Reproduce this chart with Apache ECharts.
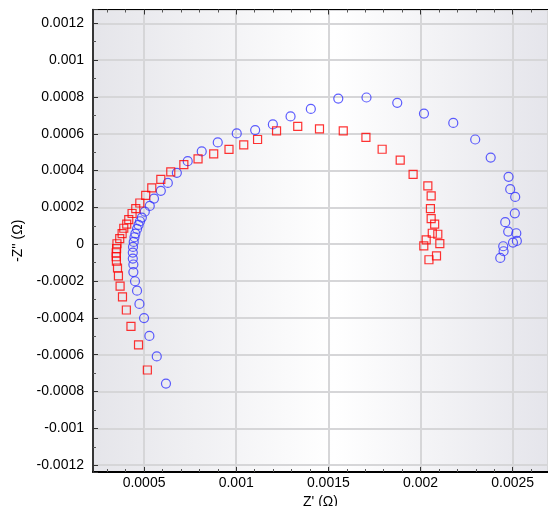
<!DOCTYPE html>
<html>
<head>
<meta charset="utf-8">
<script src="https://cdn.jsdelivr.net/npm/echarts@6/dist/echarts.min.js"></script>
<style>html,body{margin:0;padding:0;background:#fff}#c{width:548px;height:506px}</style>
</head>
<body>
<div id="c"></div>
<script>
// Blue circles: Z' (Ω) and -Z'' (Ω)
const blueZre = [0.000619,0.000569,0.000529,0.000500,0.000475,0.000462,0.000451,0.000442,0.000442,0.000439,0.000439,0.000440,0.000444,0.000448,0.000453,0.000462,0.000470,0.000478,0.000488,0.000504,0.000531,0.000554,0.000591,0.000629,0.000678,0.000737,0.000813,0.000900,0.001003,0.001103,0.001199,0.001295,0.001405,0.001554,0.001707,0.001874,0.002019,0.002178,0.002297,0.002381,0.002478,0.002487,0.002514,0.002512,0.002460,0.002476,0.002520,0.002523,0.002502,0.002449,0.002451,0.002433];
const blueZim = [-0.000757,-0.000609,-0.000498,-0.000401,-0.000324,-0.000252,-0.000201,-0.000151,-0.000110,-0.0000777,-0.0000451,-0.0000147,0.0000125,0.0000380,0.0000582,0.0000832,0.000105,0.000125,0.000145,0.000177,0.000208,0.000248,0.000290,0.000333,0.000388,0.000451,0.000504,0.000553,0.000602,0.000620,0.000651,0.000694,0.000735,0.000791,0.000797,0.000768,0.000710,0.000659,0.000569,0.000471,0.000366,0.000299,0.000257,0.000168,0.000120,0.0000690,0.0000598,0.0000179,0.0000092,-0.0000109,-0.0000380,-0.0000745];
// Red squares
const redZre = [0.000518,0.000470,0.000429,0.000404,0.000383,0.000370,0.000361,0.000356,0.000350,0.000349,0.000349,0.000351,0.000353,0.000368,0.000381,0.000390,0.000406,0.000417,0.000435,0.000455,0.000477,0.000509,0.000542,0.000591,0.000645,0.000716,0.000793,0.000878,0.000961,0.001041,0.001116,0.001219,0.001334,0.001452,0.001581,0.001704,0.001792,0.001890,0.001960,0.002040,0.002058,0.002054,0.002058,0.002077,0.002064,0.002094,0.002031,0.002018,0.002105,0.002087,0.002046];
const redZim = [-0.000683,-0.000547,-0.000446,-0.000357,-0.000286,-0.000227,-0.000172,-0.000129,-0.0000924,-0.0000679,-0.0000462,-0.0000234,0.0000027,0.0000310,0.0000582,0.0000870,0.000109,0.000134,0.000167,0.000194,0.000224,0.000265,0.000306,0.000352,0.000393,0.000433,0.000464,0.000491,0.000515,0.000540,0.000569,0.000616,0.000640,0.000627,0.000616,0.000580,0.000516,0.000457,0.000380,0.000317,0.000263,0.000193,0.000139,0.000109,0.0000598,0.0000544,0.0000234,-0.0000092,0.0000038,-0.0000636,-0.0000842];

const xName = "Z' (Ω)";
const yName = "-Z'' (Ω)";
const xMin = 0.000223, xMax = 0.002692;
const yMin = -0.001237, yMax = 0.001275;

const fmt = v => String(parseFloat(Number(v).toFixed(6)));
const font = 'Liberation Sans, Arial, sans-serif';

const chart = echarts.init(document.getElementById('c'), null, {renderer: 'canvas'});
chart.setOption({
  animation: false,
  backgroundColor: '#ffffff',
  grid: {
    left: 93, right: 0, top: 9.5, bottom: 34, show: true, borderWidth: 0,
    containLabel: false, outerBoundsMode: 'none',
    backgroundColor: {type: 'linear', x: 0, y: 0, x2: 1, y2: 0,
      colorStops: [{offset: 0, color: '#e5e5ea'}, {offset: 0.53, color: '#ffffff'}, {offset: 1, color: '#e5e5eb'}]}
  },
  xAxis: [{
    type: 'value', min: xMin, max: xMax, splitNumber: 5, position: 'bottom',
    name: xName, nameLocation: 'middle', nameGap: 16,
    nameTextStyle: {color: '#000', fontSize: 14, fontFamily: font},
    axisLine: {show: true, onZero: false, lineStyle: {color: '#000', width: 2}},
    axisTick: {show: true, inside: true, length: 5, lineStyle: {color: '#333'}},
    minorTick: {show: true, splitNumber: 5, length: 3, lineStyle: {color: '#555'}},
    splitLine: {show: true, lineStyle: {color: '#d6d6d8', width: 2}},
    axisLabel: {color: '#000', fontSize: 14, fontFamily: font, margin: 4, showMinLabel: false, showMaxLabel: false, formatter: fmt}
  }, {
    type: 'value', min: xMin, max: xMax, splitNumber: 5, position: 'top',
    axisLine: {show: true, onZero: false, lineStyle: {color: '#000', width: 1}},
    axisTick: {show: true, inside: true, length: 5, lineStyle: {color: '#333'}},
    minorTick: {show: true, splitNumber: 5, length: 3, lineStyle: {color: '#555'}},
    splitLine: {show: false},
    axisLabel: {show: false}
  }],
  yAxis: {
    type: 'value', min: yMin, max: yMax, splitNumber: 12,
    name: yName, nameLocation: 'middle', nameGap: 66,
    nameTextStyle: {color: '#000', fontSize: 14, fontFamily: font},
    axisLine: {show: true, onZero: false, lineStyle: {color: '#000', width: 1.5}},
    axisTick: {show: true, inside: true, length: 5, lineStyle: {color: '#333'}},
    minorTick: {show: true, splitNumber: 2, length: 3, lineStyle: {color: '#555'}},
    splitLine: {show: true, lineStyle: {color: '#d6d6d8', width: 2}},
    axisLabel: {color: '#000', fontSize: 14, fontFamily: font, margin: 9, showMinLabel: false, showMaxLabel: false, formatter: fmt}
  },
  series: [{
    type: 'scatter', xAxisIndex: 0,
    data: blueZre.map((x, i) => [x, blueZim[i]]),
    symbol: 'circle', symbolSize: 9,
    itemStyle: {color: 'rgba(0,0,0,0)', borderColor: '#3434ff', borderWidth: 1.2}
  }, {
    type: 'scatter', xAxisIndex: 0,
    data: redZre.map((x, i) => [x, redZim[i]]),
    symbol: 'rect', symbolSize: 8,
    itemStyle: {color: 'rgba(0,0,0,0)', borderColor: '#ff0000', borderWidth: 1.2}
  }]
});
</script>
</body>
</html>
